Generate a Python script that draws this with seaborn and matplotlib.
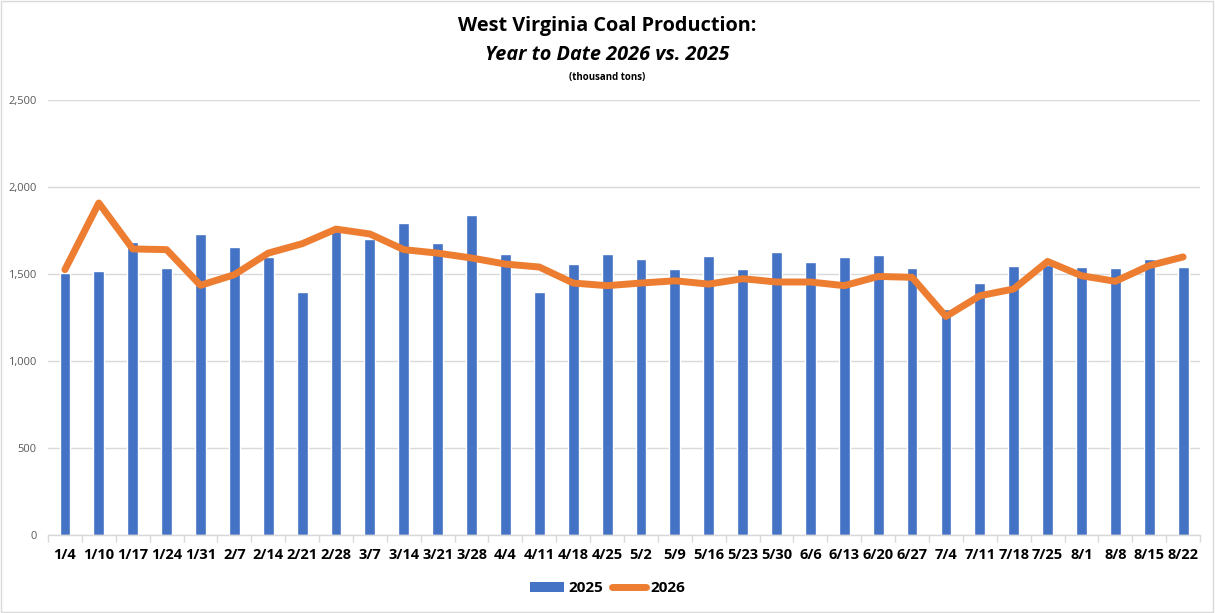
import matplotlib.pyplot as plt
import seaborn as sns
import pandas as pd
from matplotlib.ticker import FuncFormatter, FixedLocator
from matplotlib.patches import Patch, Rectangle
from matplotlib.lines import Line2D

# Data (thousand tons)
weeks = ["1/4", "1/10", "1/17", "1/24", "1/31", "2/7", "2/14", "2/21", "2/28", "3/7",
         "3/14", "3/21", "3/28", "4/4", "4/11", "4/18", "4/25", "5/2", "5/9", "5/16",
         "5/23", "5/30", "6/6", "6/13", "6/20", "6/27", "7/4", "7/11", "7/18", "7/25",
         "8/1", "8/8", "8/15", "8/22"]
prod_2025 = [1506, 1519, 1686, 1536, 1732, 1657, 1596, 1398, 1745, 1699,
             1795, 1680, 1841, 1617, 1398, 1559, 1617, 1588, 1530, 1605,
             1530, 1628, 1571, 1599, 1611, 1536, 1300, 1450, 1548, 1552,
             1542, 1536, 1588, 1542]
prod_2026 = [1525, 1908, 1644, 1640, 1435, 1496, 1620, 1674, 1758, 1730,
             1640, 1620, 1592, 1557, 1540, 1448, 1433, 1448, 1461, 1442,
             1473, 1454, 1454, 1433, 1486, 1481, 1256, 1375, 1414, 1572,
             1490, 1458, 1548, 1598]

df = pd.DataFrame({"week": weeks, "y2025": prod_2025, "y2026": prod_2026})
df["idx"] = range(len(df))

sns.set_theme(style="white")
plt.rcParams["font.family"] = ["Open Sans", "DejaVu Sans"]
plt.rcParams["text.color"] = "black"

fig = plt.figure(figsize=(12.15, 6.13), dpi=100)
ax = fig.add_axes([0.0395, 0.1272, 0.9482, 0.7097])

blue = "#4472C4"
orange = "#ED7D31"

sns.barplot(data=df, x="week", y="y2025", color=blue, width=0.32,
            saturation=1, ax=ax, zorder=2)
sns.lineplot(data=df, x="idx", y="y2026", color=orange, linewidth=5,
             ax=ax, zorder=3, solid_capstyle="round", solid_joinstyle="round")

ax.set_xlim(-0.5, len(weeks) - 0.5)
ax.set_ylim(0, 2500)
ax.set_yticks([0, 500, 1000, 1500, 2000, 2500])
ax.yaxis.set_major_formatter(FuncFormatter(lambda v, p: f"{int(v):,}"))
ax.grid(axis="y", color="#D9D9D9", linewidth=1, zorder=0)
ax.set_axisbelow(True)
for s in ["top", "right", "left"]:
    ax.spines[s].set_visible(False)
ax.spines["bottom"].set_color("#D9D9D9")
ax.spines["bottom"].set_linewidth(1)

ax.set_xticks(range(len(weeks)))
ax.set_xticklabels(weeks, fontsize=10.5, fontweight="bold", color="black")
ax.xaxis.set_minor_locator(FixedLocator([i - 0.5 for i in range(len(weeks) + 1)]))
ax.tick_params(axis="x", which="major", length=0, pad=9)
ax.tick_params(axis="x", which="minor", length=5, color="#D9D9D9", width=1, bottom=True)
ax.tick_params(axis="y", labelsize=8, labelcolor="#595959", length=0, pad=8)
ax.set_xlabel("")
ax.set_ylabel("")

# Titles
fig.text(0.5, 0.958, "West Virginia Coal Production:", ha="center", va="center",
         fontsize=14.3, fontweight="bold", color="black")
fig.text(0.5, 0.91, "Year to Date 2026 vs. 2025", ha="center", va="center",
         fontsize=14.3, fontweight="bold", style="italic", color="black")
fig.text(0.5, 0.873, "(thousand tons)", ha="center", va="center",
         fontsize=7, fontweight="bold", color="black")

handles = [Patch(facecolor=blue, edgecolor="none"),
           Line2D([0], [0], color=orange, linewidth=5)]
leg = fig.legend(handles, ["2025", "2026"], loc="center", bbox_to_anchor=(0.5, 0.04),
                 ncol=2, frameon=False, handlelength=2.2, columnspacing=0.6,
                 handletextpad=0.3, prop={"size": 11, "weight": "bold"})
for t in leg.get_texts():
    t.set_color("black")

# Figure border
fig.patches.append(Rectangle((0.001, 0.002), 0.997, 0.996, transform=fig.transFigure,
                             fill=False, edgecolor="#D9D9D9", linewidth=1))

fig.savefig("out.png", dpi=100)
